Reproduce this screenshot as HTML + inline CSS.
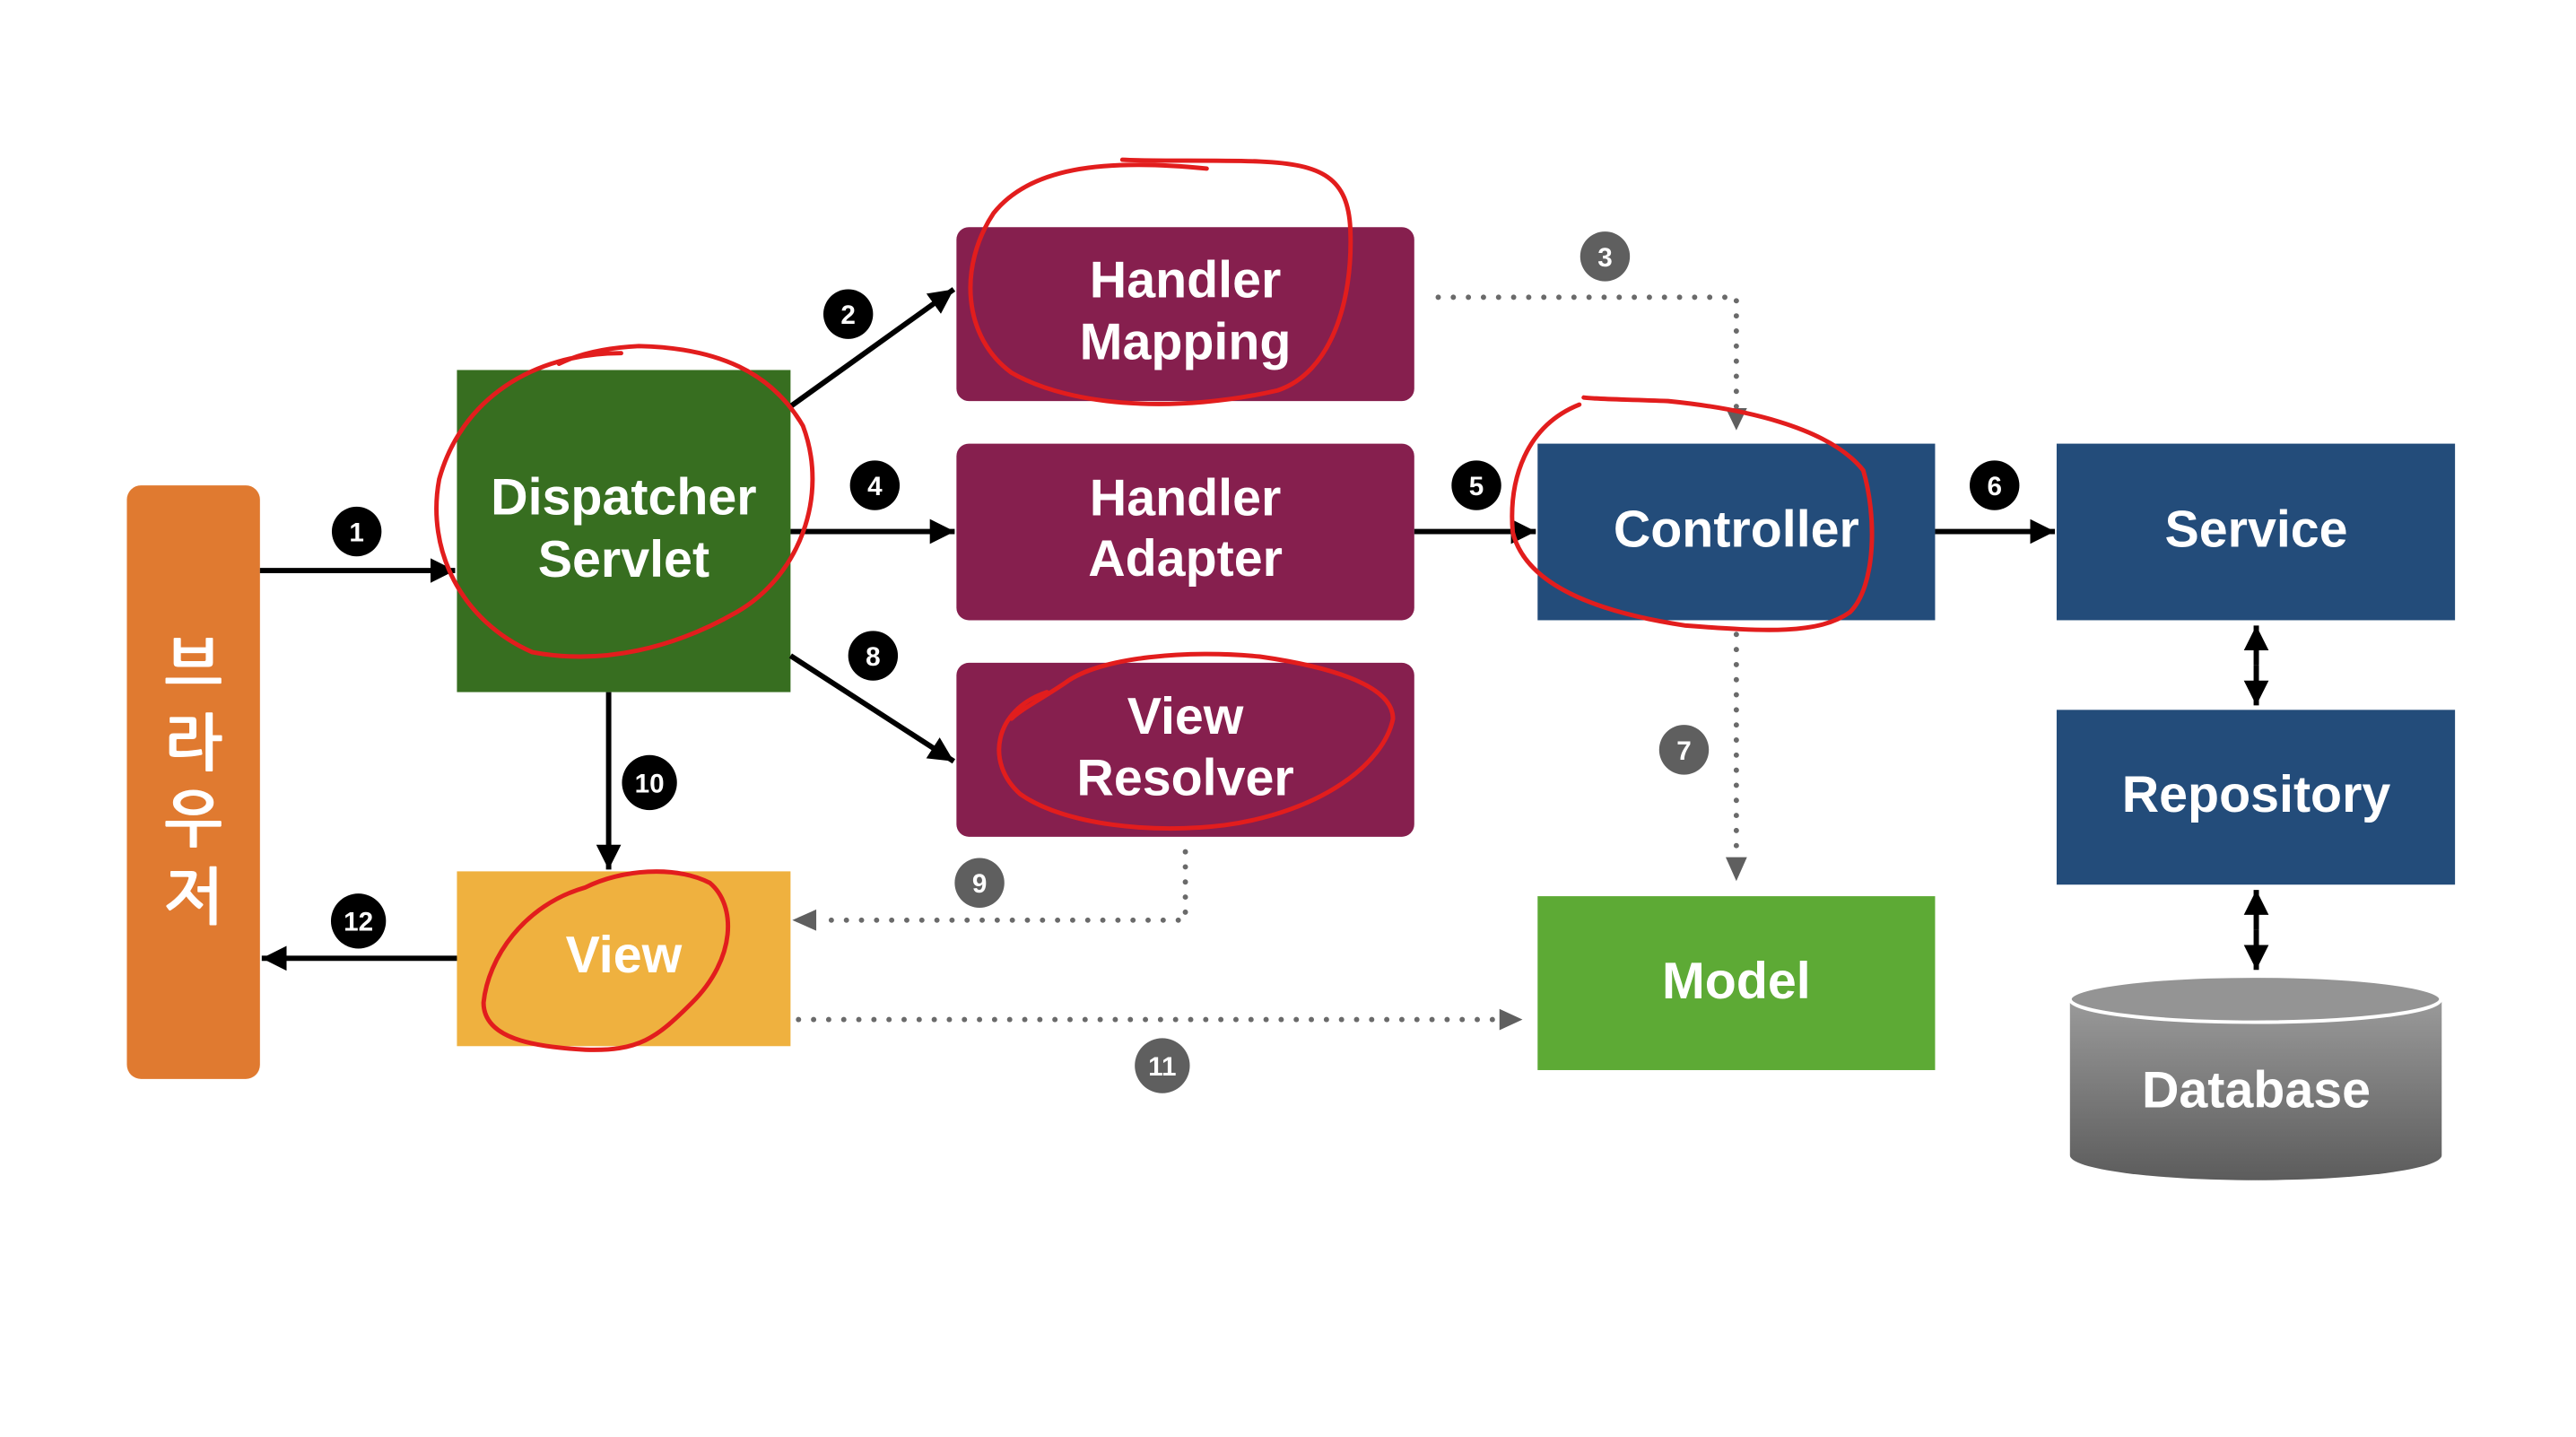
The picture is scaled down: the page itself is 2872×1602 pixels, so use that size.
<!DOCTYPE html>
<html><head><meta charset="utf-8"><style>
html,body{margin:0;padding:0;background:#fff;}
svg{display:block;}
text{font-family:"Liberation Sans","NanumGothic",sans-serif;font-weight:bold;fill:#fff;text-anchor:middle;}
.b text{font-size:30px;}
</style></head><body>
<svg width="2872" height="1602" viewBox="0 0 2872 1602" xmlns="http://www.w3.org/2000/svg">
<defs>
<marker id="ak" markerWidth="28" markerHeight="28" refX="10" refY="5" orient="auto" markerUnits="userSpaceOnUse" viewBox="0 0 10 10"><path d="M0,0 L10,5 L0,10z" fill="#000"/></marker>
<linearGradient id="db" x1="0" y1="0" x2="0" y2="1"><stop offset="0" stop-color="#9a9a9a"/><stop offset="1" stop-color="#5c5c5c"/></linearGradient>
</defs>
<style>
.k{stroke:#000;stroke-width:6;fill:none;}
.g{stroke:#6a6a6a;stroke-width:6;fill:none;stroke-dasharray:0 17;stroke-linecap:round;}
</style>
<g transform="scale(0.9892)">
<rect x="143" y="547" width="150" height="669" rx="16" fill="#E07A30"/>
<text x="218" y="775" style="font-size:70px">브</text>
<text x="218" y="862" style="font-size:70px">라</text>
<text x="218" y="948" style="font-size:70px">우</text>
<text x="218" y="1035" style="font-size:70px">저</text>
<rect x="515" y="417" width="376" height="363" fill="#376E20"/>
<text x="703" y="580" style="font-size:58px">Dispatcher</text>
<text x="703" y="650" style="font-size:58px">Servlet</text>
<rect x="1078" y="256" width="516" height="196" rx="14" fill="#861F4E"/>
<text x="1336" y="335" style="font-size:58px">Handler</text>
<text x="1336" y="405" style="font-size:58px">Mapping</text>
<rect x="1078" y="500" width="516" height="199" rx="14" fill="#861F4E"/>
<text x="1336" y="581" style="font-size:58px">Handler</text>
<text x="1336" y="649" style="font-size:58px">Adapter</text>
<rect x="1078" y="747" width="516" height="196" rx="14" fill="#861F4E"/>
<text x="1336" y="827" style="font-size:58px">View</text>
<text x="1336" y="896" style="font-size:58px">Resolver</text>
<rect x="515" y="982" width="376" height="197" fill="#EFB13F"/>
<text x="703" y="1096" style="font-size:58px">View</text>
<rect x="1733" y="500" width="448" height="199" fill="#234C7A"/>
<text x="1957" y="616" style="font-size:58px">Controller</text>
<rect x="2318" y="500" width="449" height="199" fill="#234C7A"/>
<text x="2543" y="616" style="font-size:58px">Service</text>
<rect x="2318" y="800" width="449" height="197" fill="#234C7A"/>
<text x="2543" y="915" style="font-size:58px">Repository</text>
<rect x="1733" y="1010" width="448" height="196" fill="#5DAA35"/>
<text x="1957" y="1125" style="font-size:58px">Model</text>
<path d="M2333,1126 L2333,1302 A209,28 0 0 0 2752,1302 L2752,1126 Z" fill="url(#db)"/>
<ellipse cx="2542" cy="1126" rx="209" ry="26" fill="#949494" stroke="#fff" stroke-width="4"/>
<text x="2543" y="1248" style="font-size:58px">Database</text>
<line class="k" x1="293" y1="643" x2="513" y2="643" marker-end="url(#ak)"/>
<line class="k" x1="891" y1="458" x2="1075" y2="326" marker-end="url(#ak)"/>
<line class="k" x1="891" y1="599" x2="1076" y2="599" marker-end="url(#ak)"/>
<line class="k" x1="891" y1="739" x2="1075" y2="858" marker-end="url(#ak)"/>
<line class="k" x1="1594" y1="599" x2="1731" y2="599" marker-end="url(#ak)"/>
<line class="k" x1="2181" y1="599" x2="2316" y2="599" marker-end="url(#ak)"/>
<line class="k" x1="686" y1="780" x2="686" y2="980" marker-end="url(#ak)"/>
<line class="k" x1="515" y1="1080" x2="295" y2="1080" marker-end="url(#ak)"/>
<line class="k" x1="2543" y1="750" x2="2543" y2="795" marker-end="url(#ak)"/>
<line class="k" x1="2543" y1="750" x2="2543" y2="705" marker-end="url(#ak)"/>
<line class="k" x1="2543" y1="1048" x2="2543" y2="1093" marker-end="url(#ak)"/>
<line class="k" x1="2543" y1="1048" x2="2543" y2="1003" marker-end="url(#ak)"/>
<path class="g" d="M1621,335 L1957,335 L1957,462"/>
<path d="M1945,460 L1969,460 L1957,485z" fill="#5f5f5f"/>
<path class="g" d="M1957,715 L1957,965"/>
<path d="M1945,966 L1969,966 L1957,993z" fill="#5f5f5f"/>
<path class="g" d="M1336,960 L1336,1037 L920,1037"/>
<path d="M920,1025 L920,1049 L893,1037z" fill="#5f5f5f"/>
<path class="g" d="M900,1149 L1690,1149"/>
<path d="M1690,1137 L1690,1161 L1716,1149z" fill="#5f5f5f"/>
<g class="b">
<circle cx="402" cy="599" r="28" fill="#000"/><text x="402" y="610">1</text>
<circle cx="956" cy="354" r="28" fill="#000"/><text x="956" y="365">2</text>
<circle cx="1809" cy="289" r="28" fill="#5f5f5f"/><text x="1809" y="300">3</text>
<circle cx="986" cy="547" r="28" fill="#000"/><text x="986" y="558">4</text>
<circle cx="1664" cy="547" r="28" fill="#000"/><text x="1664" y="558">5</text>
<circle cx="2248" cy="547" r="28" fill="#000"/><text x="2248" y="558">6</text>
<circle cx="1898" cy="845" r="28" fill="#5f5f5f"/><text x="1898" y="856">7</text>
<circle cx="984" cy="739" r="28" fill="#000"/><text x="984" y="750">8</text>
<circle cx="1104" cy="995" r="28" fill="#5f5f5f"/><text x="1104" y="1006">9</text>
<circle cx="732" cy="882" r="31" fill="#000"/><text x="732" y="893">10</text>
<circle cx="1310" cy="1201" r="31" fill="#5f5f5f"/><text x="1310" y="1212">11</text>
<circle cx="404" cy="1038" r="31" fill="#000"/><text x="404" y="1049">12</text>
</g>
<g fill="none" stroke="#e21d1d" stroke-width="5" stroke-linecap="round">
<path d="M1360,190 C1240,178 1160,190 1120,240 C1080,300 1085,380 1140,420 C1210,460 1330,465 1440,440 C1500,420 1525,340 1522,260 C1520,200 1490,185 1420,182 C1370,180 1300,182 1265,180"/>
<path d="M700,398 C600,398 520,450 495,540 C480,620 520,700 600,735 C680,750 760,730 830,690 C900,650 935,560 905,480 C870,420 810,392 720,390 C680,392 650,400 630,410"/>
<path d="M1780,456 C1720,480 1700,540 1705,600 C1720,660 1800,690 1900,705 C1990,712 2050,715 2085,690 C2115,660 2115,580 2100,530 C2060,480 1960,460 1880,452 C1830,450 1800,450 1785,448"/>
<path d="M1180,780 C1120,800 1110,860 1150,895 C1200,930 1300,940 1380,930 C1490,915 1560,860 1570,810 C1570,770 1490,750 1420,740 C1340,732 1240,740 1200,770 C1170,790 1150,800 1140,810"/>
<path d="M660,1000 C590,1020 550,1080 545,1130 C545,1170 600,1180 660,1183 C720,1185 740,1170 780,1130 C830,1080 830,1020 800,995 C760,975 700,980 660,1000"/>
</g>
</g>
</svg>
</body></html>
